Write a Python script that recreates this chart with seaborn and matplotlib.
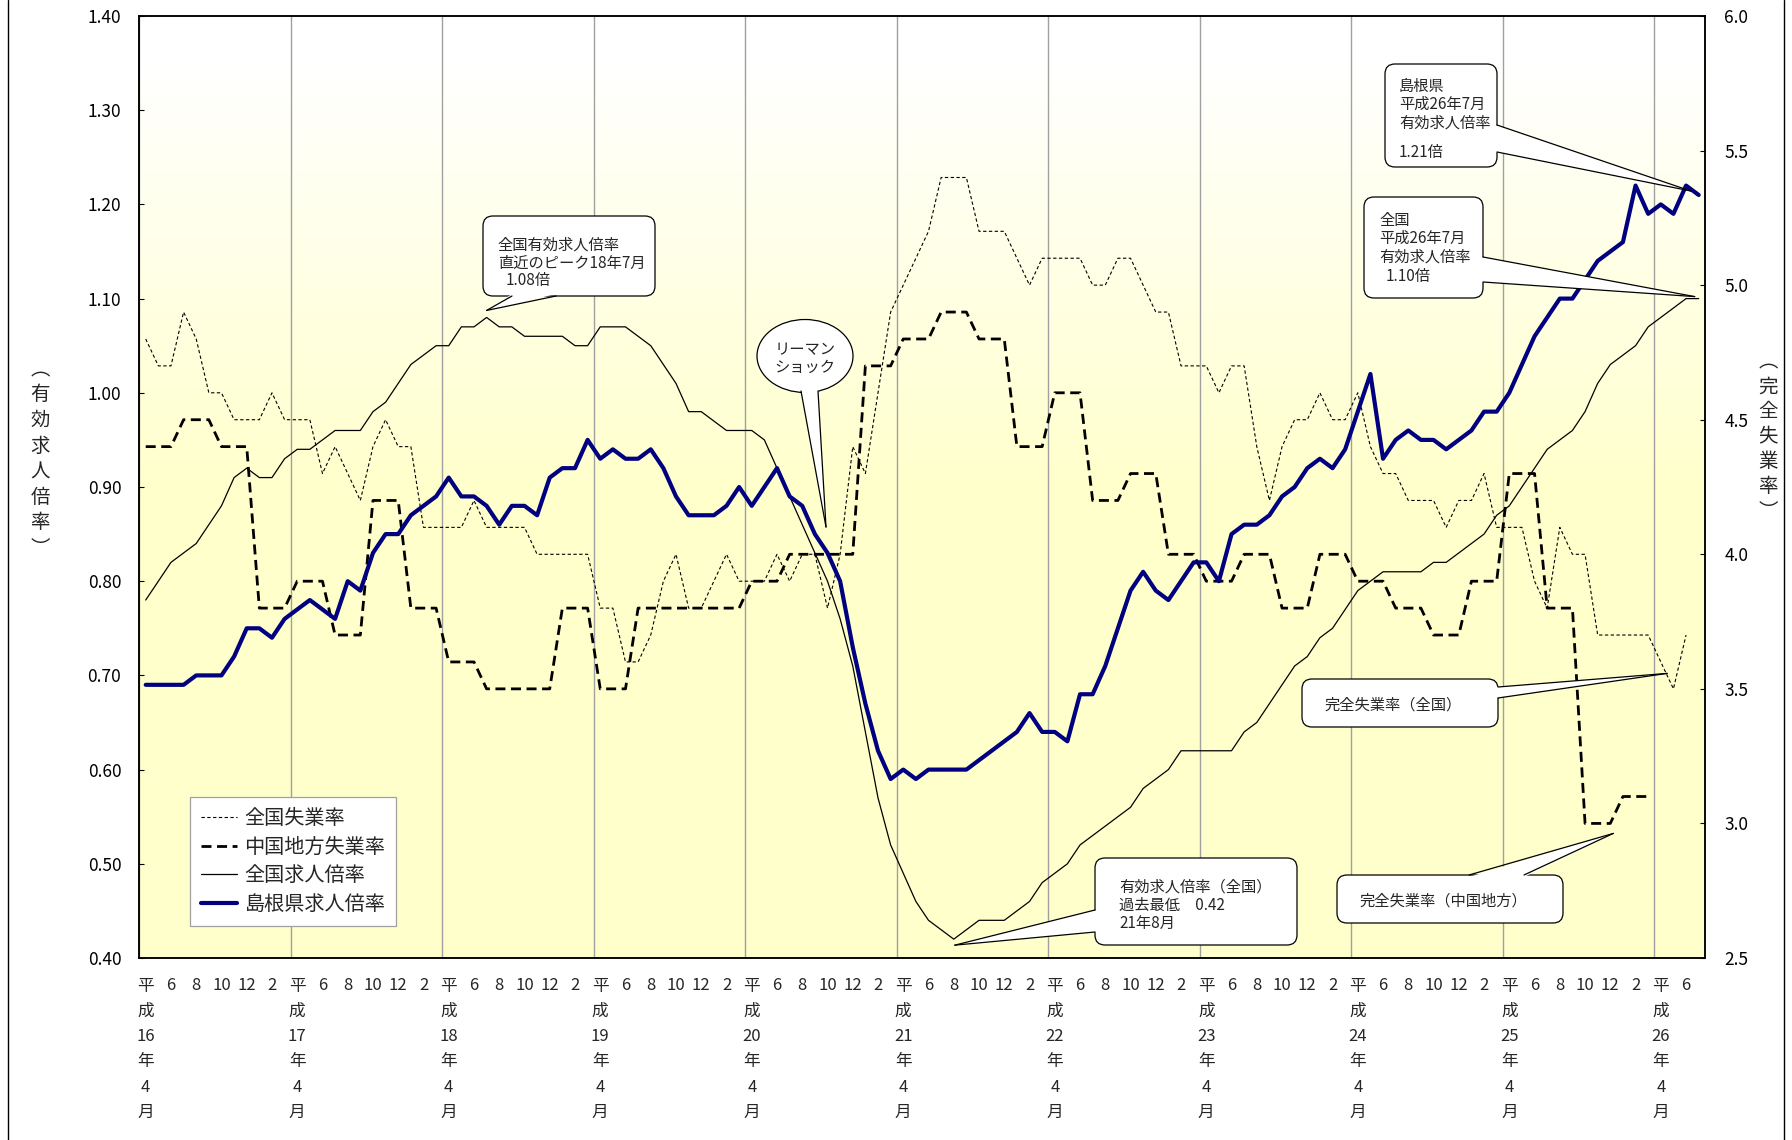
import numpy as np
import pandas as pd
import matplotlib
matplotlib.use("Agg")
import matplotlib.pyplot as plt
import matplotlib.transforms as mtransforms
from matplotlib.patches import FancyBboxPatch, Ellipse, Polygon
from matplotlib.lines import Line2D
from matplotlib.ticker import FormatStrFormatter
import seaborn as sns

# ---- data (monthly from 平成16年4月) ----
START_YEAR = 16
START_MONTH = 4

shimane_ratio = [
    0.69, 0.69, 0.69, 0.69, 0.70, 0.70, 0.70, 0.72, 0.75, 0.75,
    0.74, 0.76, 0.77, 0.78, 0.77, 0.76, 0.80, 0.79, 0.83, 0.85,
    0.85, 0.87, 0.88, 0.89, 0.91, 0.89, 0.89, 0.88, 0.86, 0.88,
    0.88, 0.87, 0.91, 0.92, 0.92, 0.95, 0.93, 0.94, 0.93, 0.93,
    0.94, 0.92, 0.89, 0.87, 0.87, 0.87, 0.88, 0.90, 0.88, 0.90,
    0.92, 0.89, 0.88, 0.85, 0.83, 0.80, 0.73, 0.67, 0.62, 0.59,
    0.60, 0.59, 0.60, 0.60, 0.60, 0.60, 0.61, 0.62, 0.63, 0.64,
    0.66, 0.64, 0.64, 0.63, 0.68, 0.68, 0.71, 0.75, 0.79, 0.81,
    0.79, 0.78, 0.80, 0.82, 0.82, 0.80, 0.85, 0.86, 0.86, 0.87,
    0.89, 0.90, 0.92, 0.93, 0.92, 0.94, 0.98, 1.02, 0.93, 0.95,
    0.96, 0.95, 0.95, 0.94, 0.95, 0.96, 0.98, 0.98, 1.00, 1.03,
    1.06, 1.08, 1.10, 1.10, 1.12, 1.14, 1.15, 1.16, 1.22, 1.19,
    1.20, 1.19, 1.22, 1.21,
]

national_ratio = [
    0.78, 0.80, 0.82, 0.83, 0.84, 0.86, 0.88, 0.91, 0.92, 0.91,
    0.91, 0.93, 0.94, 0.94, 0.95, 0.96, 0.96, 0.96, 0.98, 0.99,
    1.01, 1.03, 1.04, 1.05, 1.05, 1.07, 1.07, 1.08, 1.07, 1.07,
    1.06, 1.06, 1.06, 1.06, 1.05, 1.05, 1.07, 1.07, 1.07, 1.06,
    1.05, 1.03, 1.01, 0.98, 0.98, 0.97, 0.96, 0.96, 0.96, 0.95,
    0.92, 0.89, 0.86, 0.83, 0.80, 0.76, 0.71, 0.64, 0.57, 0.52,
    0.49, 0.46, 0.44, 0.43, 0.42, 0.43, 0.44, 0.44, 0.44, 0.45,
    0.46, 0.48, 0.49, 0.50, 0.52, 0.53, 0.54, 0.55, 0.56, 0.58,
    0.59, 0.60, 0.62, 0.62, 0.62, 0.62, 0.62, 0.64, 0.65, 0.67,
    0.69, 0.71, 0.72, 0.74, 0.75, 0.77, 0.79, 0.80, 0.81, 0.81,
    0.81, 0.81, 0.82, 0.82, 0.83, 0.84, 0.85, 0.87, 0.88, 0.90,
    0.92, 0.94, 0.95, 0.96, 0.98, 1.01, 1.03, 1.04, 1.05, 1.07,
    1.08, 1.09, 1.10, 1.10,
]

national_unemp = [
    4.8, 4.7, 4.7, 4.9, 4.8, 4.6, 4.6, 4.5, 4.5, 4.5,
    4.6, 4.5, 4.5, 4.5, 4.3, 4.4, 4.3, 4.2, 4.4, 4.5,
    4.4, 4.4, 4.1, 4.1, 4.1, 4.1, 4.2, 4.1, 4.1, 4.1,
    4.1, 4.0, 4.0, 4.0, 4.0, 4.0, 3.8, 3.8, 3.6, 3.6,
    3.7, 3.9, 4.0, 3.8, 3.8, 3.9, 4.0, 3.9, 3.9, 3.9,
    4.0, 3.9, 4.0, 4.0, 3.8, 4.0, 4.4, 4.3, 4.6, 4.9,
    5.0, 5.1, 5.2, 5.4, 5.4, 5.4, 5.2, 5.2, 5.2, 5.1,
    5.0, 5.1, 5.1, 5.1, 5.1, 5.0, 5.0, 5.1, 5.1, 5.0,
    4.9, 4.9, 4.7, 4.7, 4.7, 4.6, 4.7, 4.7, 4.4, 4.2,
    4.4, 4.5, 4.5, 4.6, 4.5, 4.5, 4.6, 4.4, 4.3, 4.3,
    4.2, 4.2, 4.2, 4.1, 4.2, 4.2, 4.3, 4.1, 4.1, 4.1,
    3.9, 3.8, 4.1, 4.0, 4.0, 3.7, 3.7, 3.7, 3.7, 3.7,
    3.6, 3.5, 3.7,
]

# 中国地方 is published quarterly (Apr-Jun 2004 ... Jan-Mar 2014)
chugoku_unemp_quarterly = [
    4.4, 4.5, 4.4, 3.8, 3.9, 3.7, 4.2, 3.8, 3.6, 3.5,
    3.5, 3.8, 3.5, 3.8, 3.8, 3.8, 3.9, 4.0, 4.0, 4.7,
    4.8, 4.9, 4.8, 4.4, 4.6, 4.2, 4.3, 4.0, 3.9, 4.0,
    3.8, 4.0, 3.9, 3.8, 3.7, 3.9, 4.3, 3.8, 3.0, 3.1,
]

legend_labels = ["全国失業率", "中国地方失業率", "全国求人倍率", "島根県求人倍率"]
left_title = "︵有効求人倍率︶"
right_title = "︵完全失業率︶"

sns.set_style("white")
plt.rcParams["font.family"] = ["Noto Sans CJK JP", "DejaVu Sans"]

W, H = 1792, 1140
AX_L, AX_R, AX_T, AX_B = 139.4, 1705.0, 16.0, 958.0
NAVY = "#000080"

n = len(shimane_ratio)
pos = np.arange(n) + 0.5
chugoku_unemp = np.repeat(chugoku_unemp_quarterly, 3)

fig = plt.figure(figsize=(W / 100, H / 100), dpi=100)
ax_u = fig.add_axes([AX_L / W, 1 - AX_B / H, (AX_R - AX_L) / W, (AX_B - AX_T) / H])

# white -> pale yellow background
depth = np.linspace(0, 1, 500)
t = np.clip((depth - 0.05) / 0.45, 0, 1)[:, None, None]
grad = (1 - t) * np.array([1.0, 1.0, 1.0]) + t * np.array([1.0, 1.0, 0.8])
ax_u.imshow(grad, extent=[0, 1, 0, 1], transform=ax_u.transAxes,
            aspect="auto", zorder=0)

# unemployment rates (right scale)
df_nu = pd.DataFrame({"pos": pos[:len(national_unemp)], "v": national_unemp})
df_cu = pd.DataFrame({"pos": pos[:len(chugoku_unemp)], "v": chugoku_unemp})
sns.lineplot(data=df_nu, x="pos", y="v", ax=ax_u, color="black", lw=0.8,
             ls=(0, (3.0, 2.2)), estimator=None, errorbar=None)
sns.lineplot(data=df_cu, x="pos", y="v", ax=ax_u, color="black", lw=2.0,
             ls=(0, (3.6, 2.0)), estimator=None, errorbar=None)

ax_r = ax_u.twinx()
df_r = pd.DataFrame({"pos": pos, "national": national_ratio, "shimane": shimane_ratio})
sns.lineplot(data=df_r, x="pos", y="national", ax=ax_r, color="black", lw=0.9,
             estimator=None, errorbar=None)
sns.lineplot(data=df_r, x="pos", y="shimane", ax=ax_r, color=NAVY, lw=3.0,
             estimator=None, errorbar=None)

for a in (ax_u, ax_r):
    a.set_xlabel("")
    a.set_ylabel("")
    for sp in a.spines.values():
        sp.set_color("black")
        sp.set_linewidth(1.1)

ax_u.set_xlim(0, n)
ax_u.set_ylim(2.5, 6.0)
ax_r.set_ylim(0.4, 1.4)

ax_u.yaxis.tick_right()
ax_r.yaxis.tick_left()
ax_u.set_yticks(np.arange(2.5, 6.01, 0.5))
ax_u.yaxis.set_major_formatter(FormatStrFormatter("%.1f"))
ax_r.set_yticks(np.arange(0.4, 1.401, 0.1))
ax_r.yaxis.set_major_formatter(FormatStrFormatter("%.2f"))
ax_u.tick_params(axis="y", direction="in", length=3.6, width=0.8, pad=14,
                 labelsize=12.5, colors="black")
ax_r.tick_params(axis="y", direction="in", length=3.6, width=0.8, pad=13,
                 labelsize=12.5, colors="black")

# year boundaries: ticks + grid
ax_u.set_xticks(np.arange(0, n + 1, 12))
ax_u.set_xticklabels([])
ax_u.tick_params(axis="x", direction="out", length=3.6, width=0.8)
ax_u.set_axisbelow(True)
ax_u.grid(axis="x", which="major", color="#a0a0a0", linewidth=1.0)
ax_u.grid(axis="y", visible=False)
ax_r.grid(False)

# month labels, year labels stacked vertically
blend = mtransforms.blended_transform_factory(ax_u.transData, ax_u.transAxes)


def ax_frac(ypx):
    return (AX_B - ypx) / (AX_B - AX_T)


for i in range(0, n, 2):
    k = START_MONTH - 1 + i
    month = k % 12 + 1
    year = START_YEAR + k // 12
    if month == START_MONTH:
        rows = ["平", "成", str(year), "年", str(month), "月"]
    else:
        rows = [str(month)]
    for r, s in enumerate(rows):
        ax_u.text(pos[i], ax_frac(986 + r * 25.3), s, transform=blend,
                  ha="center", va="center", fontsize=12, clip_on=False)

# overlay in pixel coordinates for callouts, titles and legend
ov = fig.add_axes([0, 0, 1, 1])
ov.set_xlim(0, W)
ov.set_ylim(H, 0)
ov.axis("off")


def to_px(axis, x, y):
    dx, dy = axis.transData.transform((x, y))
    return dx, H - dy


def tail(b1, b2, tip, inward):
    ix, iy = inward
    fill = Polygon([(b1[0] + ix, b1[1] + iy), (b2[0] + ix, b2[1] + iy), tip],
                   closed=True, fc="white", ec="none", zorder=3)
    ov.add_patch(fill)
    for b in (b1, b2):
        ov.add_line(Line2D([b[0], tip[0]], [b[1], tip[1]], color="black", lw=0.9, zorder=4))


def box(x0, y0, x1, y1):
    ov.add_patch(FancyBboxPatch((x0, y0), x1 - x0, y1 - y0,
                                boxstyle="round,pad=0,rounding_size=10",
                                fc="white", ec="black", lw=0.9, zorder=2))


def lines_text(items, fs=11):
    for x, y, s in items:
        ov.text(x, y, s, fontsize=fs, ha="left", va="center", zorder=5)


# 全国 peak before the 2008 downturn (18年7月)
ipk = int(np.argmax(national_ratio[:60]))
px, py = to_px(ax_r, pos[ipk], national_ratio[ipk])
box(483, 216, 655, 296)
tail((512, 296), (556, 296), (px, py - 7), (0, -2))
lines_text([(497, 245, "全国有効求人倍率"), (498, 263, "直近のピーク18年7月"),
            (506, 281, f"{national_ratio[ipk]:.2f}倍")])

# リーマンショック
ov.add_patch(Ellipse((805, 356), 96, 73, fc="white", ec="black", lw=0.9, zorder=2))
tail((801, 391), (818, 391), (826, 527), (0, -3))
ov.text(805, 350, "リーマン", fontsize=11, ha="center", va="center", zorder=5)
ov.text(805, 367, "ショック", fontsize=11, ha="center", va="center", zorder=5)

# 島根県 latest
px, py = to_px(ax_r, pos[-1], shimane_ratio[-1])
box(1385, 64, 1497, 167)
tail((1497, 125), (1497, 152), (px - 8, py - 4), (-2, 0))
lines_text([(1399, 86, "島根県"), (1399, 104, "平成26年7月"), (1399, 123, "有効求人倍率"),
            (1399, 152, f"{shimane_ratio[-1]:.2f}倍")])

# 全国 latest
px, py = to_px(ax_r, pos[-1], national_ratio[-1])
box(1364, 197, 1483, 298)
tail((1483, 257), (1483, 282), (px - 4, py - 2), (-2, 0))
lines_text([(1379, 220, "全国"), (1379, 238, "平成26年7月"), (1379, 257, "有効求人倍率"),
            (1386, 277, f"{national_ratio[-1]:.2f}倍")])

# 完全失業率（全国）
px1, py1 = to_px(ax_u, pos[120], national_unemp[120])
px2, py2 = to_px(ax_u, pos[121], national_unemp[121])
box(1302, 679, 1498, 727)
tail((1498, 687), (1498, 698), ((px1 + px2) / 2, (py1 + py2) / 2 - 2), (-2, 0))
lines_text([(1324, 705, "完全失業率（全国）")])

# 完全失業率（中国地方）
px, py = to_px(ax_u, pos[116], chugoku_unemp[116])
box(1337, 875, 1563, 923)
tail((1469, 875), (1524, 875), (px + 3, py + 10), (0, 2))
lines_text([(1359, 901, "完全失業率（中国地方）")])

# 過去最低
imn = int(np.argmin(national_ratio))
px, py = to_px(ax_r, pos[imn], national_ratio[imn])
box(1095, 858, 1297, 945)
tail((1095, 910), (1095, 932), (px + 1, py + 6), (2, 0))
lines_text([(1119, 887, "有効求人倍率（全国）"),
            (1119, 905, f"過去最低　{national_ratio[imn]:.2f}"),
            (1119, 923, "21年8月")])

# vertical axis titles
for j, ch in enumerate(left_title):
    ov.text(40, 369.4 + j * 25.6, ch, fontsize=14, ha="center", va="center")
for j, ch in enumerate(right_title):
    ov.text(1768, 362.3 + j * 24.8, ch, fontsize=14, ha="center", va="center")

# outer frame (left / right edges visible)
for xf in (8, 1784):
    ov.add_line(Line2D([xf, xf], [0, H], color="black", lw=1.0))

handles = [ax_u.lines[0], ax_u.lines[1], ax_r.lines[0], ax_r.lines[1]]
leg = ov.legend(handles, legend_labels, loc="upper left",
                bbox_to_anchor=(190 / W, 1 - 797 / H), bbox_transform=fig.transFigure,
                fontsize=14.5, frameon=True, fancybox=False, edgecolor="#a0a0a0",
                facecolor="white", framealpha=1, handlelength=1.8,
                handletextpad=0.35, labelspacing=0.38, borderpad=0.55,
                borderaxespad=0)
leg.get_frame().set_linewidth(0.9)
leg.set_zorder(6)

fig.savefig("out.png", dpi=100)
